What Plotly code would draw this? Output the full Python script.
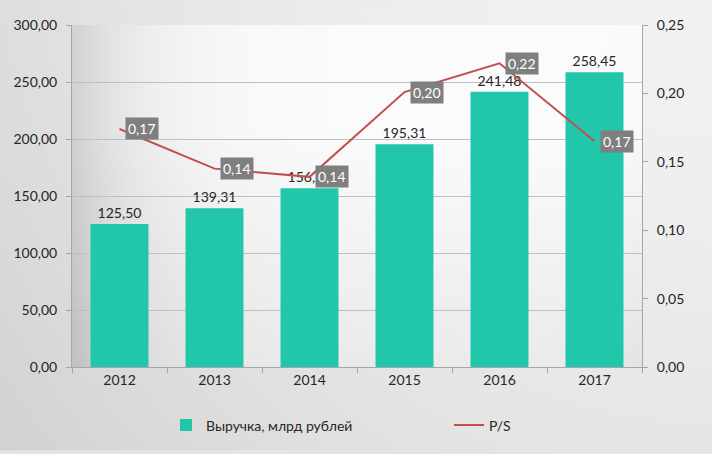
import base64, struct, zlib
import numpy as np
import plotly.graph_objects as go

years = ["2012", "2013", "2014", "2015", "2016", "2017"]
revenue = [125.50, 139.31, 156.70, 195.31, 241.48, 258.45]
ps_ratio = [0.174, 0.145, 0.139, 0.201, 0.222, 0.165]
left_ticks = [0, 50, 100, 150, 200, 250, 300]
right_ticks = [0, 0.05, 0.10, 0.15, 0.20, 0.25]


def png_uri(arr):
    h, w = arr.shape
    raw = b"".join(b"\x00" + bytes(np.clip(arr[i], 0, 255).astype(np.uint8).repeat(3)) for i in range(h))
    def chunk(t, d):
        c = struct.pack(">I", len(d)) + t + d
        return c + struct.pack(">I", zlib.crc32(t + d) & 0xffffffff)
    png = b"\x89PNG\r\n\x1a\n" + chunk(b"IHDR", struct.pack(">IIBBBBB", w, h, 8, 2, 0, 0, 0))
    png += chunk(b"IDAT", zlib.compress(raw)) + chunk(b"IEND", b"")
    return "data:image/png;base64," + base64.b64encode(png).decode()


# paper gradient
W, H = 178, 114
xx, yy = np.meshgrid(np.linspace(0, 1, W), np.linspace(0, 1, H))
paper = 242 - 20 * (1 - xx) ** 2 - 12 * yy ** 1.5
# plot area gradient
pw, ph = 143, 87
px, py = np.meshgrid(np.linspace(0, 1, pw), np.linspace(0, 1, ph))
plot = (252 - 42 * np.exp(-px / 0.12) - 24 * np.clip(py - 0.3, 0, 1)
        - 30 * np.clip(px - 0.85, 0, 1) ** 1.0 * (0.3 + py))

m_l, m_r, m_t, m_b = 72, 70, 25, 84
pa_w = 712 - m_l - m_r
pa_h = 454 - m_t - m_b

fig = go.Figure()
fig.add_trace(go.Bar(
    x=years, y=revenue, name="Выручка, млрд рублей", legend="legend",
    marker=dict(color="#22C6AA", line=dict(width=0)),
    width=0.61, text=revenue, texttemplate="%{y:.2f}", textposition="outside",
    textfont=dict(color="#262626", size=14, family="Lato"), cliponaxis=False,
))
fig.add_trace(go.Scatter(
    x=years, y=ps_ratio, name="P/S", yaxis="y2", mode="lines", legend="legend2",
    line=dict(color="#C0504D", width=2),
))
for i, v in enumerate(ps_ratio):
    fig.add_annotation(
        x=i, y=v, yref="y2", text=f"{v:.2f}".replace(".", ","), showarrow=False,
        xanchor="left", yanchor="middle", xshift=5, bgcolor="#7F7F7F",
        font=dict(color="white", size=14, family="Lato"), borderpad=2,
    )

leg_common = dict(orientation="h", xanchor="left", yanchor="middle", y=(370 - 429) / pa_h,
                  font=dict(size=14), bgcolor="rgba(0,0,0,0)", itemwidth=30)

fig.update_layout(
    width=712, height=454, separators=", ",
    margin=dict(l=m_l, r=m_r, t=m_t, b=m_b),
    paper_bgcolor="#e4e4e4", plot_bgcolor="rgba(0,0,0,0)",
    font=dict(family="Lato", size=14, color="#262626"),
    showlegend=True,
    legend=dict(x=(166 - m_l) / pa_w, **leg_common),
    legend2=dict(x=(449 - m_l) / pa_w, **leg_common),
    xaxis=dict(type="category", range=[-0.5, len(years) - 0.5], showline=True, linecolor="#a6a6a6",
               ticks="outside", tickson="boundaries", ticklen=5, tickcolor="#a6a6a6",
               showgrid=False, tickfont=dict(size=14)),
    yaxis=dict(range=[0, 300], tickvals=left_ticks, tickformat=".2f", showgrid=True,
               gridcolor="#bfbfbf", showline=True, linecolor="#a6a6a6", ticks="outside",
               ticklen=5, tickcolor="#a6a6a6", zeroline=False, ticklabelstandoff=6),
    yaxis2=dict(range=[0, 0.25], tickvals=right_ticks, tickformat=".2f", overlaying="y",
                side="right", showgrid=False, showline=True, linecolor="#a6a6a6",
                ticks="outside", ticklen=5, tickcolor="#a6a6a6", zeroline=False,
                ticklabelstandoff=6),
    images=[
        dict(source=png_uri(paper), xref="paper", yref="paper", x=-m_l / pa_w, y=1 + m_t / pa_h,
             sizex=712 / pa_w, sizey=454 / pa_h, sizing="stretch", layer="below", xanchor="left", yanchor="top"),
        dict(source=png_uri(plot), xref="paper", yref="paper", x=0, y=1, sizex=1, sizey=1,
             sizing="stretch", layer="below", xanchor="left", yanchor="top"),
    ],
)
fig.write_html("out.html")
